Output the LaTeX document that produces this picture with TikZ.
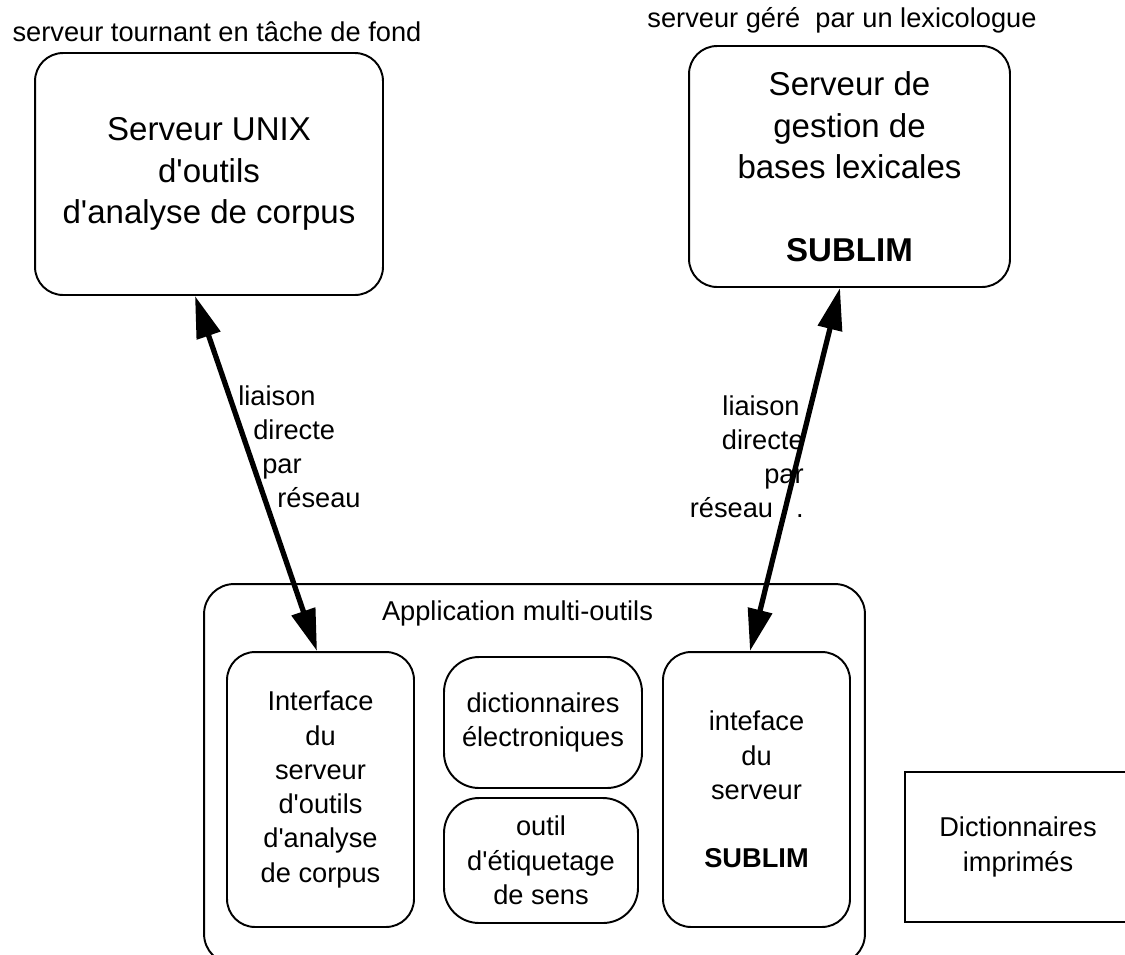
\documentclass[tikz,border=0pt]{standalone}
\usepackage{fontspec}
\setmainfont{Liberation Sans}
\usetikzlibrary{arrows.meta}
\newcommand{\grandtexte}{\fontsize{18.8}{23.6}\selectfont}
\newcommand{\petittexte}{\fontsize{15.5}{19.5}\selectfont}
\newcommand{\apos}{\textquotesingle}
\begin{document}
\begin{tikzpicture}[x=0.02cm,y=-0.02cm,
 boite/.style={draw,line width=1.1pt,rounded corners=0.56cm,align=center,inner sep=0pt},
 lien/.style={line width=3pt,{Triangle[length=0.84cm,width=0.48cm]}-{Triangle[length=0.84cm,width=0.48cm]}}]
\useasboundingbox (0,0) rectangle (1125,954);
% serveurs
\node[boite,font=\grandtexte,minimum width=6.96cm,minimum height=4.84cm] (unix) at (209,174)
 {Serveur UNIX\\d\apos outils\\d\apos analyse de corpus};
\node[boite,font=\grandtexte,minimum width=6.42cm,minimum height=4.82cm] (lexsrv) at (849.5,166.5)
 {Serveur de\\gestion de\\bases lexicales\\[0.82cm]\textbf{SUBLIM}};
\node[font=\petittexte] (tacheFond) at (217,32) {serveur tournant en t\^ache de fond};
\node[font=\petittexte] (lexico) at (842,20) {serveur g\'er\'e\ \ par un lexicologue};
% application
\node[boite,minimum width=13.22cm,minimum height=7.6cm,rounded corners=0.6cm] (appli) at (534.5,774) {};
\node[font=\petittexte] (appliLabel) at (517.5,613) {Application multi-outils};
\node[boite,font=\petittexte,minimum width=3.74cm,minimum height=5.5cm] (ifunix) at (320.5,789.5)
 {Interface\\du\\serveur\\d\apos outils\\d\apos analyse\\de corpus};
\node[boite,font=\petittexte,minimum width=3.96cm,minimum height=2.62cm,rounded corners=0.7cm] (dicoel) at (543,722.5)
 {dictionnaires\\\'electroniques};
\node[boite,font=\petittexte,minimum width=3.88cm,minimum height=2.5cm,rounded corners=0.7cm] (etiq) at (541,860.5)
 {outil\\d\apos\'etiquetage\\de sens};
\node[boite,font=\petittexte,minimum width=3.74cm,minimum height=5.5cm] (ifsublim) at (756.5,789.5)
 {inteface\\du\\serveur\\[0.68cm]\textbf{SUBLIM}};
\node[draw,line width=1.1pt,font=\petittexte,align=center,minimum width=4.52cm,minimum height=3cm] (dicoimp) at (1018,847)
 {Dictionnaires\\imprim\'es};
% liaisons
\draw[lien] ([xshift=-0.28cm]unix.south) -- ([xshift=-0.07cm]ifunix.north);
\draw[lien] ([xshift=-0.19cm]lexsrv.south) -- ([xshift=-0.13cm]ifsublim.north);
\node[font=\petittexte,align=left,anchor=north west,inner sep=0pt] (reseauG) at (238,385)
 {liaison\\\hspace*{0.3cm}directe\\\hspace*{0.48cm}par\\\hspace*{0.78cm}r\'eseau};
\node[font=\petittexte,align=right,anchor=north east,inner sep=0pt] (reseauD) at (804,395)
 {liaison\hspace*{0.08cm}\\directe\hspace*{0.22cm}\\par\hspace*{0.44cm}\\r\'eseau\hspace*{0.46cm}.};
\end{tikzpicture}
\end{document}
